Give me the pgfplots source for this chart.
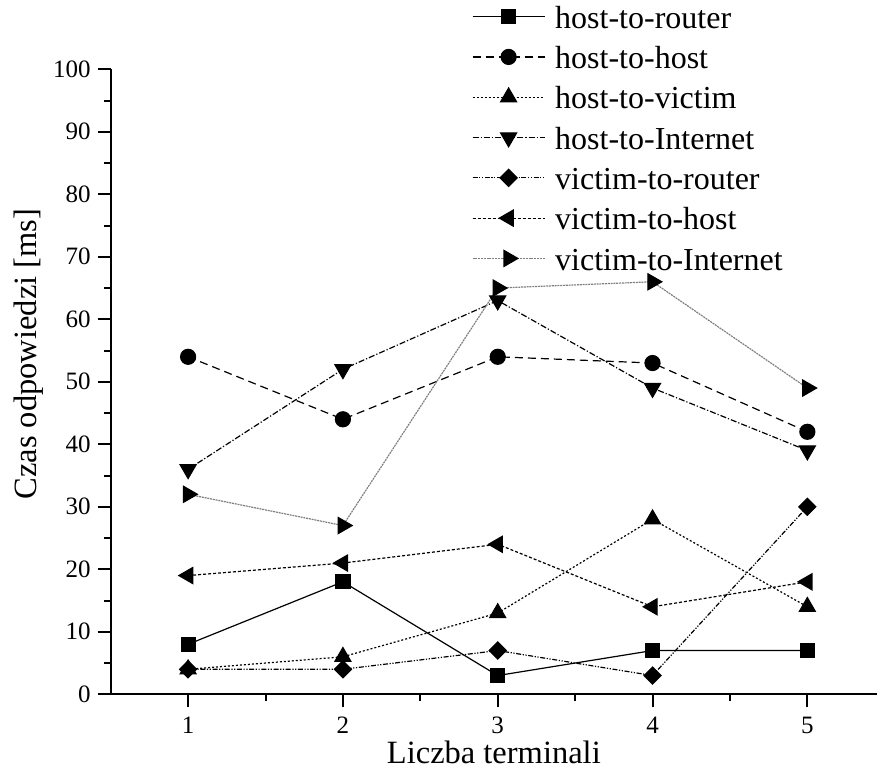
\documentclass[border=0pt]{standalone}
\usepackage{fontspec}
\setmainfont{Liberation Serif}
\usepackage{pgfplots}
\pgfplotsset{compat=1.18}
\begin{document}
\begin{tikzpicture}
\begin{axis}[
  at={(0,0)}, anchor=south west,
  scale only axis,
  width=383.15pt, height=312.5pt,
  xmin=0.5, xmax=5.45, ymin=0, ymax=100,
  axis x line*=bottom, axis y line*=left,
  axis line style={line width=1.1pt},
  xtick={1,2,3,4,5}, ytick={0,10,...,100},
  minor x tick num=1, minor y tick num=1,
  tick align=outside,
  major tick length=6.5pt, minor tick length=3.25pt,
  every tick/.style={line width=1pt, black},
  tick label style={font=\fontsize{12.5}{14}\selectfont},
  xticklabel style={yshift=-1.5pt},
  /pgf/number format/assume math mode=true,
  xlabel={Liczba terminali}, ylabel={Czas odpowiedzi [ms]},
  every axis x label/.style={at={(axis description cs:0.5,0)}, anchor=base, yshift=-34.6pt, font=\fontsize{16.25}{19}\selectfont},
  every axis y label/.style={at={(axis description cs:0,0.5445)}, rotate=90, anchor=center, yshift=41.1pt, font=\fontsize{16.25}{19}\selectfont},
  legend cell align=left,
  legend style={draw=none, fill=none, at={(axis description cs:0.4715,1.1109)}, anchor=north west,
    inner sep=0pt, outer sep=0pt, font=\fontsize{16}{19}\selectfont, row sep=3.5pt,
    nodes={inner sep=1pt, text height=13.15pt, text depth=1.5pt},
    /tikz/every odd column/.style={column sep=4pt}},
  legend image code/.code={\draw[mark repeat=2, mark phase=2, #1] plot coordinates {(0pt,0pt) (18pt,0pt) (36pt,0pt)};},
  clip=false,
]
\addplot[black, line width=0.6pt, mark=square*, mark size=3.5pt, mark options={solid}]
  coordinates {(1,8) (2,18) (3,3) (4,7) (5,7)};
\addlegendentry{host-to-router}
\addplot[black, line width=0.6pt, dash pattern=on 4pt off 2.5pt, mark=*, mark size=3.75pt, mark options={solid}]
  coordinates {(1,54) (2,44) (3,54) (4,53) (5,42)};
\addlegendentry{host-to-host}
\addplot[black, line width=0.6pt, dash pattern=on 1pt off 1pt, mark=triangle*, mark size=4.6pt, mark options={solid}]
  coordinates {(1,4) (2,6) (3,13) (4,28) (5,14)};
\addlegendentry{host-to-victim}
\addplot[black, line width=0.6pt, dash pattern=on 3pt off 1pt on 0.6pt off 1pt, mark=triangle*, mark size=4.6pt, mark options={solid, rotate=180}]
  coordinates {(1,36) (2,52) (3,63) (4,49) (5,39)};
\addlegendentry{host-to-Internet}
\addplot[black, line width=0.6pt, dash pattern=on 2.5pt off 0.8pt on 0.6pt off 0.8pt on 0.6pt off 0.8pt, mark=square*, mark size=3pt, mark options={solid, rotate=45}]
  coordinates {(1,4) (2,4) (3,7) (4,3) (5,30)};
\addlegendentry{victim-to-router}
\addplot[black, line width=0.6pt, dash pattern=on 1.5pt off 1pt, mark=triangle*, mark size=4.6pt, mark options={solid, rotate=90}]
  coordinates {(1,19) (2,21) (3,24) (4,14) (5,18)};
\addlegendentry{victim-to-host}
\addplot[gray, line width=0.6pt, dash pattern=on 1pt off 0.4pt, mark=triangle*, mark size=4.6pt, mark options={solid, rotate=-90, draw=black, fill=black}]
  coordinates {(1,32) (2,27) (3,65) (4,66) (5,49)};
\addlegendentry{victim-to-Internet}
\end{axis}
\pgfresetboundingbox
\path[use as bounding box] (-55.35pt,-37.35pt) rectangle (383.15pt,347.15pt);
\end{tikzpicture}
\end{document}
